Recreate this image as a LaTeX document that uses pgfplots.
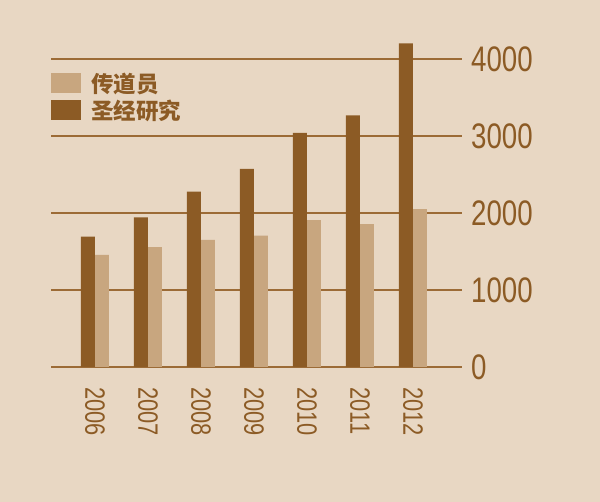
\documentclass[border=0pt]{standalone}
\usepackage{fontspec}
\usepackage{pgfplots}
\pgfplotsset{compat=1.18}
\newfontfamily\cjk{Noto Sans CJK SC}
\newfontfamily\numfont[FakeStretch=0.78]{Liberation Sans}
\definecolor{bg}{HTML}{E8D7C3}
\definecolor{darkbar}{HTML}{8C5B25}
\definecolor{lightbar}{HTML}{C8A67F}
\definecolor{gridc}{HTML}{9C6B36}
\begin{document}
\begin{tikzpicture}[x=1pt,y=1pt]
\fill[bg] (0,0) rectangle (600,502);
\useasboundingbox (0,0) rectangle (600,502);
\begin{axis}[
  at={(51pt,135pt)}, anchor=south west,
  scale only axis, width=411pt, height=331pt,
  xmin=-0.83, xmax=6.925, ymin=0, ymax=4300,
  axis line style={draw=none},
  major tick length=0pt,
  ybar, bar width=14pt,
  xtick={0,...,6},
  xticklabels={2006,2007,2008,2009,2010,2011,2012},
  xticklabel style={rotate=-90, anchor=west, inner sep=0pt,
    font=\numfont\fontsize{28}{28}\selectfont, text=darkbar},
  xticklabel shift=20pt,
  ytick={0,1000,2000,3000,4000},
  yticklabel pos=right,
  yticklabel style={anchor=west, inner sep=0pt,
    font=\numfont\fontsize{35.5}{36}\selectfont, text=darkbar,
    /pgf/number format/assume math mode=true,
    /pgf/number format/1000 sep={}},
  yticklabel shift=9pt,
  ymajorgrids,
  grid style={gridc, line width=1.5pt},
  legend style={at={(0,0.889)}, anchor=north west, draw=none, fill=none,
    inner sep=0pt, row sep=6pt,
    font=\cjk\bfseries\fontsize{22.5}{22.5}\selectfont, text=darkbar,
    nodes={inner sep=0pt}},
  legend cell align=left,
  legend image code/.code={\fill[#1] (0pt,-10pt) rectangle (30pt,10pt); \path (40pt,0pt);},
]
\addplot[fill=lightbar, draw=none, bar shift=7pt] coordinates {
  (0,1455) (1,1558) (2,1653) (3,1705) (4,1909) (5,1857) (6,2052)
};
\addlegendentry{传道员}
\addplot[fill=darkbar, draw=none, bar shift=-7pt] coordinates {
  (0,1692) (1,1944) (2,2277) (3,2575) (4,3043) (5,3268) (6,4204)
};
\addlegendentry{圣经研究}
\end{axis}
\end{tikzpicture}
\end{document}
